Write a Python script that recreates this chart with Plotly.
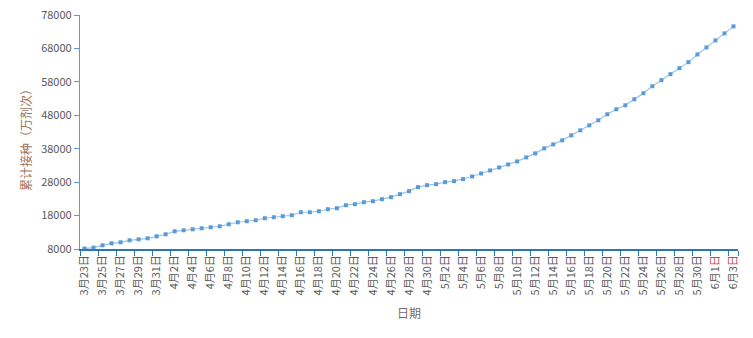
import datetime
import plotly.graph_objects as go

start = datetime.date(2021, 3, 23)
dates = [start + datetime.timedelta(days=i) for i in range(73)]
categories = [f"{d.month}月{d.day}日" for d in dates]

values = [
    8150, 8400, 9100, 9700, 10000, 10600, 10900, 11200, 11800, 12400,
    13300, 13600, 13900, 14200, 14500, 14800, 15400, 16000, 16300, 16600,
    17200, 17500, 17800, 18100, 19000, 19000, 19300, 19900, 20200, 21100,
    21400, 22000, 22300, 22900, 23500, 24400, 25300, 26500, 27100, 27400,
    28000, 28300, 28900, 29700, 30600, 31500, 32400, 33300, 34200, 35400,
    36600, 38100, 39300, 40500, 42000, 43500, 45000, 46500, 48300, 49800,
    51000, 52800, 54600, 56700, 58500, 60300, 62100, 63900, 66200, 68300,
    70400, 72500, 74600,
]

tick_vals = categories[::2]
tick_text = []
for lab in tick_vals:
    if lab.startswith("6月"):
        tick_text.append(lab[:-1] + "<span style='color:#C0504D'>日</span>")
    else:
        tick_text.append(lab)

y_title = "累计接种（万剂次）"
x_title = "日期"

FONT = "Noto Sans CJK SC, Microsoft YaHei, sans-serif"

fig = go.Figure()
fig.add_trace(go.Scatter(
    x=categories, y=values, mode="lines+markers",
    line=dict(color="#9CC2E8", width=1.2),
    marker=dict(symbol="square", size=4, color="#5B9BD5"),
    showlegend=False,
))

fig.update_layout(
    width=753, height=338,
    margin=dict(l=80, r=15, t=15, b=89),
    paper_bgcolor="white", plot_bgcolor="white",
    font=dict(family=FONT, size=11, color="#595959"),
    xaxis=dict(
        type="category", range=[-0.5, 72.5],
        tickmode="array", tickvals=tick_vals, ticktext=tick_text,
        tickson="boundaries", tickangle=-90,
        ticks="outside", ticklen=5, tickcolor="#2E75B6", tickwidth=1,
        showline=True, linecolor="#2E75B6", linewidth=1.5,
        showgrid=False, zeroline=False,
        tickfont=dict(family=FONT, size=11, color="#595959"),
        automargin=False,
    ),
    yaxis=dict(
        range=[8000, 78000], tick0=8000, dtick=10000, tickformat="d",
        ticks="outside", ticklen=5, tickcolor="#5B9BD5", tickwidth=1,
        showline=True, linecolor="#5B9BD5", linewidth=1.2,
        showgrid=False, zeroline=False,
        tickfont=dict(family=FONT, size=11, color="#595959"),
        automargin=False,
    ),
    annotations=[
        dict(text=y_title, textangle=-90, xref="paper", yref="paper",
             x=(25 - 80) / 658, y=(249 - 137) / 234,
             xanchor="center", yanchor="middle", showarrow=False,
             font=dict(family=FONT, size=12, color="#9E7360")),
        dict(text=x_title, xref="paper", yref="paper",
             x=0.5, y=(249 - 312) / 234,
             xanchor="center", yanchor="middle", showarrow=False,
             font=dict(family=FONT, size=12, color="#7A6A62")),
    ],
)

fig.write_html("out.html")
